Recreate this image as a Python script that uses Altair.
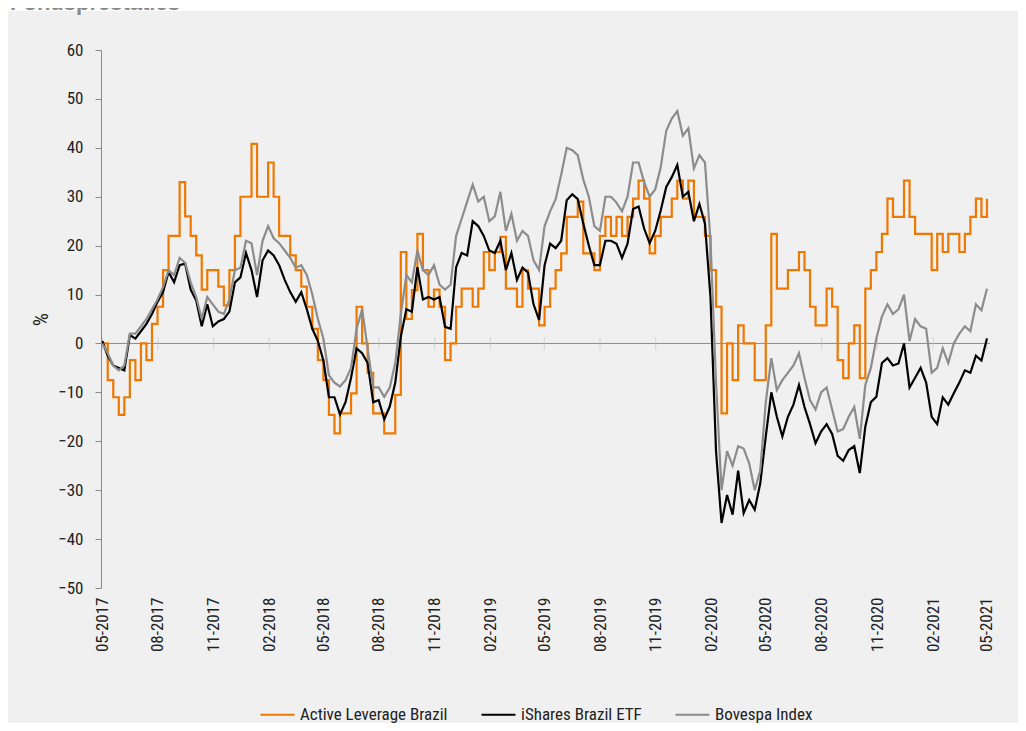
import altair as alt
import pandas as pd

FONT = "Roboto Condensed, Liberation Sans Narrow, DejaVu Sans Condensed, sans-serif"

# Observation dates (161 evenly spaced observation points between the first and last quarter tick)
dates = pd.date_range("2017-05-01", "2021-05-01", periods=161)

active_leverage = [
    0, -7.5, -11, -14.6, -11, -3.4, -7.5, 0, -3.4, 4,
    7.5, 15, 22, 22, 33, 26, 22, 18, 11, 15,
    15, 11.6, 7.8, 15, 22, 30, 30, 40.8, 30, 30,
    37, 30, 22, 22, 18, 15, 11.6, 7.5, 3, -3.4,
    -7.5, -14.6, -18.4, -14.3, -14.3, -10.2, 7.5, 0, -6, -14.3,
    -14.3, -18.4, -18.4, -10.5, 18.7, 5, 10.9, 22.4, 15, 7.5,
    11, 7.5, -3.4, 0, 7.5, 11.2, 11.2, 7.5, 11.2, 18.7,
    15, 18.7, 21.8, 11.2, 11.2, 7.5, 15, 11.2, 11.2, 3.7,
    7.5, 11.2, 15, 18.4, 25.9, 25.9, 29, 18.4, 18.4, 15,
    22, 25.9, 22, 25.9, 22, 25.9, 29.6, 33.3, 29.6, 18.4,
    22, 25.9, 25.9, 29.6, 33.3, 29.6, 33.3, 25.9, 25.9, 22,
    15, 7.5, -14.3, 0, -7.5, 3.7, 0, 0, -7.5, -7.5,
    3.7, 22.4, 11.2, 11.2, 15, 15, 18.7, 15, 7.5, 3.7,
    3.7, 11.2, 7.5, -3.4, -7.1, 0, 3.7, -7.1, 11.2, 15,
    18.7, 22.4, 29.6, 25.9, 25.9, 33.3, 25.9, 22.4, 22.4, 22.4,
    15, 22.4, 18.7, 22.4, 22.4, 18.7, 22.4, 25.9, 29.6, 25.9,
    29.6,
]

ishares_brazil = [
    0.5, -2.5, -4.5, -5, -5.5, 1.7, 1, 2.5, 4, 6,
    8.5, 10.5, 14.6, 12.5, 16, 16.3, 11, 8.8, 3.5, 8,
    3.5, 4.5, 5, 6.5, 12.5, 13.5, 18.5, 15, 9.5, 17,
    19, 18, 16, 13, 10.5, 8.5, 10.5, 7, 3, 0.5,
    -3.5, -11, -11, -14.5, -12, -7, -1, -2, -4, -12,
    -11.6, -15.5, -12.9, -8, 1.4, 7, 6.5, 15.6, 9, 9.5,
    9, 9.5, 3.4, 3, 15.6, 18.5, 18, 25, 24, 22,
    19, 18.5, 21, 15, 18.5, 13, 15.5, 14.5, 8, 4.8,
    16, 20.4, 19.5, 21, 29.3, 30.5, 29.5, 24.5, 20, 16,
    16, 21, 21, 20.4, 17.5, 20.4, 27.5, 28, 23.5, 20.5,
    23, 27.2, 32, 34, 36.5, 30, 31, 25, 28.5, 24.5,
    9.5, -22, -36.7, -31, -35, -26, -34.7, -32, -34, -28.6,
    -19, -10, -15, -19, -15, -12.5, -8.5, -13, -16.5, -20.4,
    -18, -16.5, -18.5, -23, -24, -21.8, -21, -26.5, -17, -12,
    -10.9, -4, -3, -4.5, -4.1, 0, -9, -7, -5, -8,
    -15, -16.5, -11, -12.5, -10.2, -8, -5.5, -6, -2.5, -3.5,
    1,
]

bovespa_index = [
    0, -2, -4.5, -5.5, -4.5, 2, 2, 3.5, 5, 7,
    9, 11.5, 15, 14, 17.5, 16.5, 12.5, 9.5, 5, 9.5,
    8, 6.5, 6, 9, 15, 15.5, 21, 20.5, 14, 21,
    24, 21.5, 20.5, 19, 17.5, 15.5, 16, 14, 10, 5,
    1, -6.5, -8, -8.8, -7.5, -5, 3, 7, -1, -9,
    -9, -10.9, -9, -4, 6, 14, 12.5, 19, 15, 14,
    16, 12, 11, 12, 22, 25.5, 29, 32.5, 29, 30,
    25, 26, 31, 23, 26.5, 21, 23, 22, 17, 15,
    24, 27, 29.5, 34.5, 40, 39.5, 38.5, 33.5, 30, 24,
    23, 30, 30, 28.8, 27, 30, 37, 37, 33, 30,
    31.5, 36, 43.5, 46, 47.5, 42.5, 44, 35.8, 38.5, 37,
    21, -8, -30, -22, -25, -21, -21.5, -24.5, -30, -26,
    -12, -3, -9.5, -7.5, -6, -4.5, -2, -7, -11.6, -13.5,
    -10, -9, -13.5, -18, -17.5, -15, -13, -19.5, -8.5, -5,
    1, 5.5, 8, 6, 7, 10, 0.5, 5, 3.5, 3,
    -6, -5, -1, -4, 0, 2, 3.5, 2.5, 8, 6.8,
    11.2,
]

series_names = ["Active Leverage Brazil", "iShares Brazil ETF", "Bovespa Index"]
series_colors = ["#EF7800", "#000000", "#8C8C8C"]
series_widths = [2.2, 2.2, 1.5]

tick_months = [(2017, 5), (2017, 8), (2017, 11), (2018, 2), (2018, 5), (2018, 8),
               (2018, 11), (2019, 2), (2019, 5), (2019, 8), (2019, 11), (2020, 2),
               (2020, 5), (2020, 8), (2020, 11), (2021, 2), (2021, 5)]
y_ticks = list(range(-50, 61, 10))

# ---- tables built from the arrays ----
rows = []
for name, vals in zip(series_names, [active_leverage, ishares_brazil, bovespa_index]):
    for d, v in zip(dates, vals):
        rows.append({"date": d, "value": v, "series": name})
df = pd.DataFrame(rows)
df_orange = df[df.series == series_names[0]]
df_rest = df[df.series != series_names[0]]

tick_df = pd.DataFrame({"date": [pd.Timestamp(year=y, month=m, day=1) for y, m in tick_months]})
one = pd.DataFrame({"a": [0]})

PLOT_W, PLOT_H = 889, 538

x_scale = alt.Scale(domain=[alt.DateTime(year=2017, month=4, date=29),
                            alt.DateTime(year=2021, month=5, date=6)])
y_scale = alt.Scale(domain=[-50, 60], nice=False, zero=False)

x_axis = alt.Axis(values=[alt.DateTime(year=y, month=m, date=1) for y, m in tick_months],
                  format="%m-%Y", labelAngle=270, domain=False, ticks=False, grid=False,
                  labelPadding=9, labelFontSize=17, labelFont=FONT, labelColor="#222222",
                  title=None, zindex=1)
y_axis = alt.Axis(values=y_ticks, grid=False, domainColor="#888888", tickColor="#888888",
                  tickSize=6, labelPadding=12, labelFontSize=17, labelFont=FONT,
                  labelColor="#222222", title="%", titleFont=FONT, titleFontSize=21,
                  titleFontWeight="normal", titleColor="#222222", titleX=-60, titleY=269,
                  titleBaseline="middle", titleAlign="center", zindex=1)

X = alt.X("date:T", scale=x_scale, axis=x_axis)
Y = alt.Y("value:Q", scale=y_scale, axis=y_axis)

color = alt.Color("series:N",
                  scale=alt.Scale(domain=series_names, range=series_colors),
                  legend=alt.Legend(orient="none", legendX=158, legendY=646,
                                    direction="horizontal", title=None,
                                    symbolType="stroke", symbolSize=1156,
                                    symbolStrokeWidth=2, labelFontSize=17,
                                    labelFont=FONT, labelColor="#222222", labelLimit=0,
                                    columnPadding=29, labelOffset=4, padding=0,
                                    zindex=1))
width_enc = alt.StrokeWidth("series:N",
                            scale=alt.Scale(domain=series_names, range=series_widths),
                            legend=None)

panel = alt.Chart(one).mark_rect(color="#F0F0F0").encode(
    x=alt.value(-93), x2=alt.value(917), y=alt.value(-39), y2=alt.value(673))

title = alt.Chart(one).mark_text(
    text="Fondsprestaties", align="left", baseline="alphabetic",
    font="Liberation Sans, Arial, sans-serif", fontSize=22, fontWeight="bold",
    color="#8A8A8A").encode(x=alt.value(-91), y=alt.value(-40))

zero_rule = alt.Chart(one).mark_rule(color="#8C8C8C", strokeWidth=1).encode(
    y=alt.Y(datum=0, scale=y_scale))

ticks = alt.Chart(tick_df).mark_tick(orient="vertical", color="#C8C8C8", size=13,
                                     thickness=1).encode(
    x=alt.X("date:T", scale=x_scale), y=alt.Y(datum=0, scale=y_scale))

orange_line = alt.Chart(df_orange).mark_line(interpolate="step-after").encode(
    x=X, y=Y, color=color, strokeWidth=width_enc)

other_lines = alt.Chart(df_rest).mark_line().encode(
    x=X, y=Y, color=color, strokeWidth=width_enc,
    order=alt.Order("date:T"))

chart = alt.layer(panel, title, zero_rule, ticks, orange_line, other_lines).properties(
    width=PLOT_W, height=PLOT_H,
    autosize=alt.AutoSizeParams(type="none"),
    padding={"left": 93, "top": 42, "right": 28, "bottom": 135},
    background="white",
).configure_view(stroke=None)

chart.save("out.html", embed_options={"renderer": "svg", "actions": False})
